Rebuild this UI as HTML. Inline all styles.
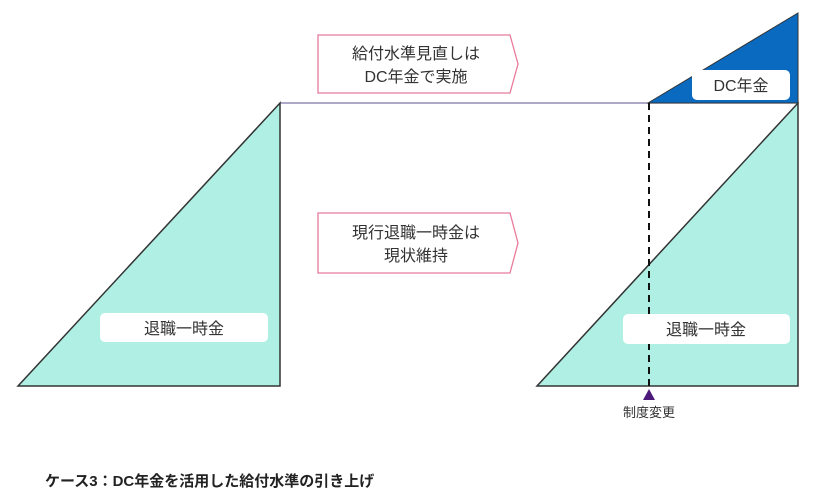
<!DOCTYPE html>
<html><head><meta charset="utf-8"><style>
body{margin:0;background:#fff;}
svg text{font-family:"Liberation Sans","Noto Sans CJK JP",sans-serif;}
</style></head><body>
<svg width="819" height="498" viewBox="0 0 819 498" xmlns="http://www.w3.org/2000/svg">
<line x1="280" y1="103" x2="798" y2="103" stroke="#7d76a8" stroke-width="1.2"/>
<polygon points="18,386 280,103 280,386" fill="#b0efe4" stroke="#333" stroke-width="1.5"/>
<polygon points="537,386 798,103 798,386" fill="#b0efe4" stroke="#333" stroke-width="1.5"/>
<polygon points="648,103 798,13 798,103" fill="#0a6ac0" stroke="#333" stroke-width="1"/>
<line x1="649" y1="103" x2="649" y2="388" stroke="#111" stroke-width="2" stroke-dasharray="7,5"/>
<polygon points="643,400 649,389 655,400" fill="#4b1a7a"/>
<text x="649" y="417" font-size="13" text-anchor="middle" fill="#333">制度変更</text>
<polygon points="318,35 510,35 518,64 510,93 318,93" fill="#fff" stroke="#e87a9a" stroke-width="1.3"/>
<text x="416" y="59" font-size="16" text-anchor="middle" fill="#333">給付水準見直しは</text>
<text x="416" y="82" font-size="16" text-anchor="middle" fill="#333">DC年金で実施</text>
<polygon points="318,213 510,213 518,243 510,273 318,273" fill="#fff" stroke="#e87a9a" stroke-width="1.3"/>
<text x="416" y="238" font-size="16" text-anchor="middle" fill="#333">現行退職一時金は</text>
<text x="416" y="261" font-size="16" text-anchor="middle" fill="#333">現状維持</text>
<rect x="100" y="313" width="168" height="29" rx="5" fill="#fff"/>
<text x="184" y="334" font-size="16" text-anchor="middle" fill="#333">退職一時金</text>
<rect x="623" y="314" width="167" height="30" rx="5" fill="#fff"/>
<text x="706" y="335" font-size="16" text-anchor="middle" fill="#333">退職一時金</text>
<rect x="692" y="70" width="98" height="30" rx="5" fill="#fff"/>
<text x="741" y="91" font-size="16" text-anchor="middle" fill="#333">DC年金</text>
<text x="45" y="486" font-size="15" font-weight="bold" fill="#222">ケース3：DC年金を活用した給付水準の引き上げ</text>
</svg>
</body></html>
